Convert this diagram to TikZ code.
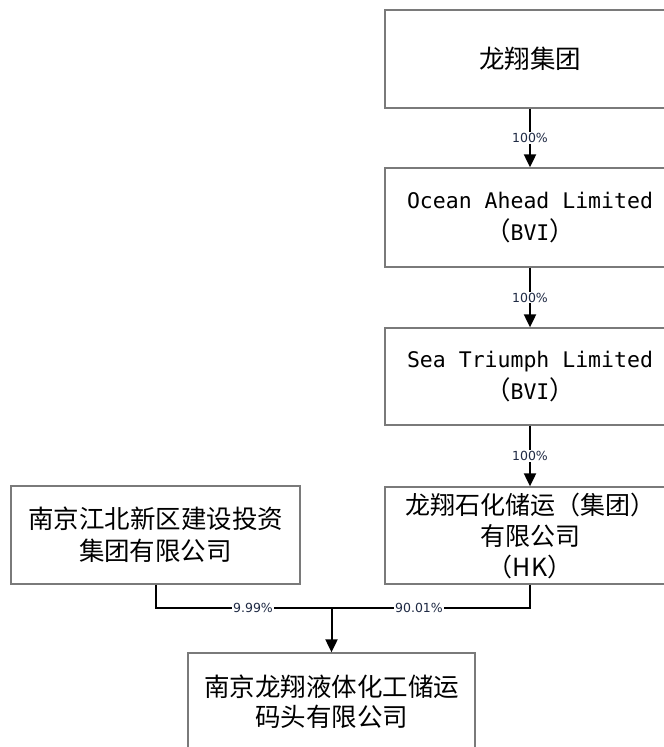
\documentclass[tikz,border=0pt]{standalone}
\usepackage{fontspec}
\setmainfont{Noto Sans CJK SC}
\newfontfamily\monof{DejaVu Sans Mono}
\newfontfamily\labf{DejaVu Sans}
\usetikzlibrary{arrows.meta}
\definecolor{boxline}{HTML}{7A7A7A}
\definecolor{labc}{HTML}{1F2A44}
\begin{document}
\begin{tikzpicture}[x=1pt,y=-1pt,
  ent/.style={draw=boxline, line width=1.3pt, rectangle, minimum width=290pt, minimum height=98pt, align=center, inner sep=0pt, font=\fontsize{25.5}{32}\selectfont},
  conn/.style={line width=2pt, black},
  arr/.style={conn, -{Triangle[width=12pt,length=13pt]}},
  pct/.style={fill=white, inner sep=1pt, text=labc, font=\fontsize{12.5}{13}\selectfont\labf}
]
\useasboundingbox (0,0) rectangle (664,747);
\node[ent] (b1) at (530,59) {龙翔集团};
\node[ent, minimum height=99pt] (b2) at (530,217.5) {{\monof\fontsize{21.5}{32}\selectfont Ocean Ahead Limited}\\（{\monof\fontsize{21.5}{32}\selectfont BVI}）};
\node[ent, minimum height=97pt] (b3) at (530,376.5) {{\monof\fontsize{21.5}{32}\selectfont Sea Triumph Limited}\\（{\monof\fontsize{21.5}{32}\selectfont BVI}）};
\node[ent, minimum height=97pt, font=\fontsize{25}{31}\selectfont] (b4) at (530,535.5) {龙翔石化储运（集团）\\有限公司\\（HK）};
\node[ent, minimum width=289pt, minimum height=98pt] (lft) at (155.5,535) {南京江北新区建设投资\\集团有限公司};
\node[ent, minimum width=287pt, minimum height=97pt, font=\fontsize{25.5}{30}\selectfont] (bot) at (331.5,701.5) {南京龙翔液体化工储运\\码头有限公司};
\draw[arr] (b1.south) -- node[pct]{100\%} (b2.north);
\draw[arr] (b2.south) -- node[pct]{100\%} (b3.north);
\draw[arr] (b3.south) -- node[pct]{100\%} (b4.north);
\coordinate (j) at (331.5,608);
\draw[conn] (lft.south) |- (j);
\draw[conn] (b4.south) |- (j);
\draw[arr] (j) -- (bot.north);
\node[pct] (p1) at (253,608) {9.99\%};
\node[pct] (p2) at (419,608) {90.01\%};
\end{tikzpicture}
\end{document}
